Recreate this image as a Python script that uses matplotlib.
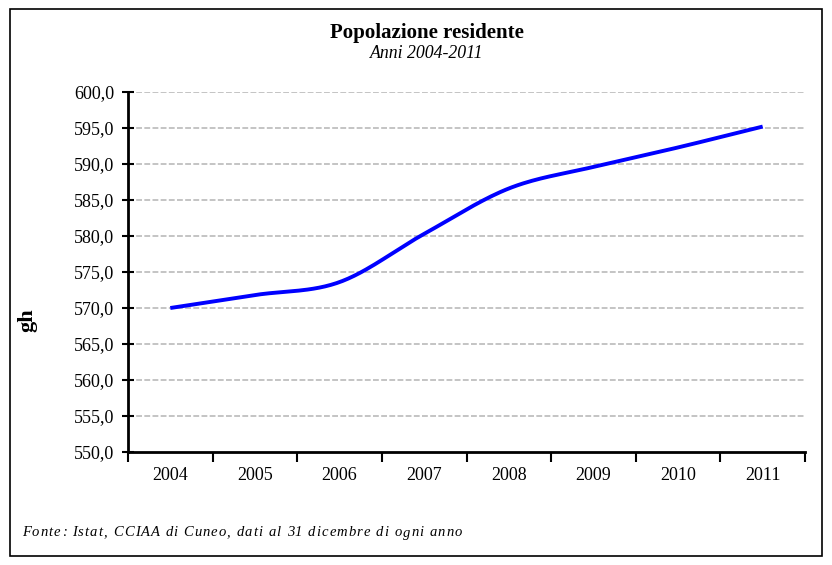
import numpy as np
import matplotlib.pyplot as plt
from matplotlib.patches import Rectangle

plt.rcParams['font.family'] = ['Liberation Serif', 'DejaVu Serif']

anni = ['2004', '2005', '2006', '2007', '2008', '2009', '2010', '2011']
popolazione = [570.0, 571.8, 573.6, 580.3, 586.6, 589.6, 592.3, 595.2]
fonte = 'Fonte: Istat, CCIAA di Cuneo, dati al 31 dicembre di ogni anno'


def smooth(x, y, n=30):
    # curva levigata tipo Excel (Catmull-Rom) fra i punti
    x = np.asarray(x, float)
    y = np.asarray(y, float)
    px = np.concatenate([[2 * x[0] - x[1]], x, [2 * x[-1] - x[-2]]])
    py = np.concatenate([[2 * y[0] - y[1]], y, [2 * y[-1] - y[-2]]])
    xs, ys = [], []
    t = np.linspace(0, 1, n)
    for i in range(1, len(px) - 2):
        for p, out in ((px, xs), (py, ys)):
            p0, p1, p2, p3 = p[i - 1], p[i], p[i + 1], p[i + 2]
            out.extend(0.5 * ((2 * p1) + (-p0 + p2) * t
                              + (2 * p0 - 5 * p1 + 4 * p2 - p3) * t ** 2
                              + (-p0 + 3 * p1 - 3 * p2 + p3) * t ** 3))
    return xs, ys


W, H = 832, 565
fig = plt.figure(figsize=(W / 100, H / 100), dpi=100)
fig.patches.append(Rectangle((10 / W, 9 / H), 812 / W, 547 / H,
                             transform=fig.transFigure, fill=False,
                             edgecolor='black', linewidth=1.2))

ax = fig.add_axes([128 / W, 1 - 452 / H, 677 / W, 360 / H])
pos = np.arange(len(anni))
xs, ys = smooth(pos, popolazione)
ax.plot(xs, ys, color='#0000ff', linewidth=2.8, solid_capstyle='butt')

ax.set_xlim(-0.5, len(anni) - 0.5)
ax.set_ylim(550, 600)
yt = np.arange(550, 601, 5)
ax.set_yticks(yt)
ax.set_yticklabels(['{:.1f}'.format(v).replace('.', ',') for v in yt])
ax.set_xticks(pos)
ax.set_xticklabels(anni)
ax.set_xticks(np.arange(-0.5, len(anni)), minor=True)
ax.tick_params(axis='x', which='major', length=0, pad=11, labelsize=13)
ax.tick_params(axis='x', which='minor', length=7, width=1.5, direction='out')
ax.tick_params(axis='y', length=8, width=1.5, direction='inout', pad=6, labelsize=13)

for v in yt[1:]:
    ax.axhline(v, color='#c4c4c4', linestyle=(0, (3, 1.2)), linewidth=1.4, zorder=0)

for s in ['top', 'right']:
    ax.spines[s].set_visible(False)
ax.spines['left'].set_linewidth(2)
ax.spines['bottom'].set_linewidth(2)

fig.text(427 / W, 1 - 33 / H, 'Popolazione residente', ha='center', va='center',
         fontsize=15, fontweight='bold')
fig.text(427 / W, 1 - 54 / H, 'Anni 2004-2011', ha='center', va='center',
         fontsize=12.8, style='italic')
fig.text(27 / W, 1 - 320 / H, 'gh', ha='center', va='center', rotation=90,
         fontsize=16, fontweight='bold')

# nota a piè di pagina con spaziatura larga fra i caratteri
renderer = fig.canvas.get_renderer()
x0, x1 = 22, 462
widths = []
for ch in fonte:
    t = fig.text(0, 0, ch.replace(' ', '\u00a0'), fontsize=10.5, style='italic')
    widths.append(t.get_window_extent(renderer).width)
    t.remove()
extra = (x1 - x0 - sum(widths)) / (len(fonte) - 1)
x = x0
for ch, w in zip(fonte, widths):
    if ch != ' ':
        fig.text(x / W, 1 - 533 / H, ch, ha='left', va='center',
                 fontsize=10.5, style='italic')
    x += w + extra

fig.savefig('out.png', dpi=100)
